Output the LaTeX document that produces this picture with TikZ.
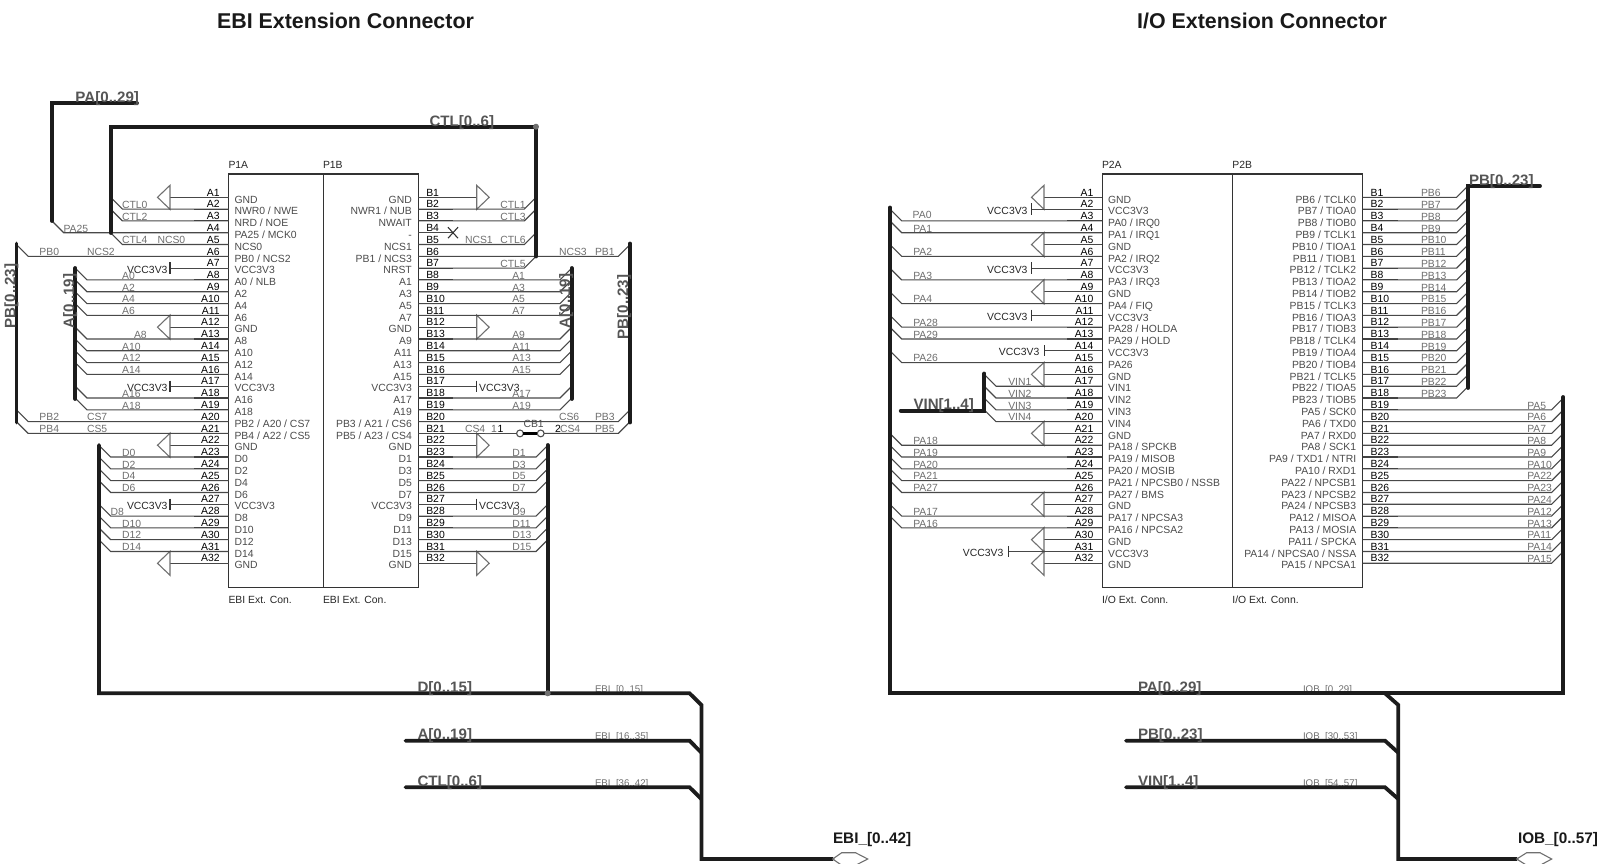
\documentclass[tikz,border=0pt]{standalone}
\usepackage{fontspec}
\setmainfont{Liberation Sans}
\usetikzlibrary{calc}
\definecolor{pinnamec}{HTML}{4A4A4A}
\definecolor{wirelabc}{HTML}{6E6E6E}
\definecolor{buslabc}{HTML}{555555}
\definecolor{wirec}{HTML}{484848}
\definecolor{symc}{HTML}{707070}
\definecolor{busc}{HTML}{1C1C1C}
\tikzset{
  wire/.style={draw=wirec,line width=0.55pt},
  stub/.style={draw=black!78,line width=0.55pt},
  bus/.style={draw=busc,line width=1.9pt,line cap=round,line join=miter},
  sym/.style={draw=symc,line width=0.55pt},
  boxnode/.style={draw=black!80,line width=0.7pt,inner sep=0pt,outer sep=0pt},
  lab/.style={inner sep=0pt,outer sep=0pt,anchor=base west},
  pinnum/.style={lab,font=\fontsize{5.2}{6}\selectfont,text=black},
  pinname/.style={lab,font=\fontsize{5.2}{6}\selectfont,text=pinnamec},
  wirelabel/.style={lab,font=\fontsize{5.2}{6}\selectfont,text=wirelabc},
  smalllabel/.style={lab,font=\fontsize{4.85}{6}\selectfont,text=pinnamec!80},
  vcclabel/.style={lab,font=\fontsize{5.2}{6}\selectfont,text=black!85},
  partlabel/.style={lab,font=\fontsize{5.2}{6}\selectfont,text=black!85},
  buslabel/.style={lab,font=\bfseries\fontsize{7.55}{8}\selectfont,text=buslabc},
  portlabel/.style={lab,font=\bfseries\fontsize{7.65}{8}\selectfont,text=black!90},
  titlelabel/.style={inner sep=0pt,font=\bfseries\fontsize{10.7}{12}\selectfont,text=black!90},
  junction/.style={circle,fill=symc,draw=none,minimum size=3pt,inner sep=0pt},
  jumperend/.style={circle,fill=white,draw=black!70,line width=0.55pt,minimum size=3.4pt,inner sep=0pt,outer sep=0pt},
}
\newcommand\pinY[1]{\pgfmathsetmacro\yy{197.3+11.806*(#1-1)}}
\def\labdy{-0.7}
\def\vccgap{2.5}
% left column of pins
\newcommand\leftpins[3]{%
  \foreach[count=\i] \n in {#3}{%
    \pinY{\i}%
    \coordinate (#1-\i) at (#2,\yy);
    \coordinate (#1-\i-s) at (#2-35,\yy);
    \draw[stub] (#1-\i) -- (#1-\i-s);
    \node[pinnum,anchor=base east] (#1-\i-num) at (#2-9,\yy-1.3) {A\i};
    \node[pinname] (#1-\i-name) at (#2+5.8,\yy+5.7) {\n};
  }}
% right column of pins
\newcommand\rightpins[3]{%
  \foreach[count=\i] \n in {#3}{%
    \pinY{\i}%
    \coordinate (#1-\i) at (#2,\yy);
    \coordinate (#1-\i-s) at (#2+35,\yy);
    \draw[stub] (#1-\i) -- (#1-\i-s);
    \node[pinnum] (#1-\i-num) at (#2+8,\yy-1.3) {B\i};
    \node[pinname,anchor=base east] (#1-\i-name) at (#2-6.5,\yy+5.7) {\n};
  }}
% wire from a pin to a bus on the left: part, pin, bus x, label, label x
\newcommand\wireL[5]{%
  \pinY{#2}%
  \coordinate (#1-#2-k) at (#3+11.7,\yy);
  \coordinate (#1-#2-b) at (#3,\yy-11.7);
  \draw[wire] (#1-#2) -- (#1-#2-k) -- (#1-#2-b);
  \node[wirelabel] (#1-#2-l) at (#5,\yy+\labdy) {#4};
}
% wire from a pin to a bus on the right
\newcommand\wireR[5]{%
  \pinY{#2}%
  \coordinate (#1-#2-k) at (#3-11.7,\yy);
  \coordinate (#1-#2-b) at (#3,\yy-11.7);
  \draw[wire] (#1-#2) -- (#1-#2-k) -- (#1-#2-b);
  \node[wirelabel] (#1-#2-l) at (#5,\yy+\labdy) {#4};
}
% ground symbols: part, pin, back x
\newcommand\gndL[3]{%
  \pinY{#2}%
  \coordinate (#1-#2-g) at (#3,\yy);
  \draw[wire] (#1-#2) -- (#1-#2-g);
  \draw[sym] (#3,\yy-12) -- (#3,\yy+12) -- (#3-12.5,\yy) -- cycle;
}
\newcommand\gndR[3]{%
  \pinY{#2}%
  \coordinate (#1-#2-g) at (#3,\yy);
  \draw[wire] (#1-#2) -- (#1-#2-g);
  \draw[sym] (#3,\yy-12) -- (#3,\yy+12) -- (#3+12.5,\yy) -- cycle;
}
% power tie: part, pin, bar x
\newcommand\vccL[3]{%
  \pinY{#2}%
  \coordinate (#1-#2-g) at (#3,\yy);
  \draw[wire] (#1-#2) -- (#1-#2-g);
  \draw[sym,draw=black!80] (#3,\yy-5.7) -- (#3,\yy+5.7);
  \node[vcclabel,anchor=base east] (#1-#2-v) at (#3-\vccgap,\yy+5.2) {VCC3V3};
}
\newcommand\vccR[3]{%
  \pinY{#2}%
  \coordinate (#1-#2-g) at (#3,\yy);
  \draw[wire] (#1-#2) -- (#1-#2-g);
  \draw[sym,draw=black!80] (#3,\yy-5.7) -- (#3,\yy+5.7);
  \node[vcclabel] (#1-#2-v) at (#3+2.5,\yy+5.2) {VCC3V3};
}
\begin{document}
\begin{tikzpicture}[x=0.5pt,y=-0.5pt]
\useasboundingbox (0,0) rectangle (1602,863);
\clip (0,0) rectangle (1602,863);

% titles
\node[titlelabel] (title1) at (345.5,21) {EBI Extension Connector};
\node[titlelabel] (title2) at (1262,21) {I/O Extension Connector};

% connector bodies
\node[boxnode,minimum width=47.3pt,minimum height=206.65pt] (P1Abox) at (276,380.65) {};
\node[boxnode,minimum width=47.5pt,minimum height=206.65pt] (P1Bbox) at (370.8,380.65) {};
\node[boxnode,minimum width=65.2pt,minimum height=206.65pt] (P2Abox) at (1167.5,380.65) {};
\node[boxnode,minimum width=65pt,minimum height=206.65pt] (P2Bbox) at (1297.7,380.65) {};
\node[partlabel] (P1At) at (228.5,168.7) {P1A};
\node[partlabel] (P1Bt) at (323,168.7) {P1B};
\node[partlabel] (P2At) at (1102,168.7) {P2A};
\node[partlabel] (P2Bt) at (1232.4,168.7) {P2B};
\node[partlabel] (P1Ab) at (228.5,603) {EBI Ext. Con.};
\node[partlabel] (P1Bb) at (323,603) {EBI Ext. Con.};
\node[partlabel] (P2Ab) at (1102,603) {I/O Ext. Conn.};
\node[partlabel] (P2Bb) at (1232.4,603) {I/O Ext. Conn.};

% pins
\leftpins{P1A}{228.7}{GND,NWR0 / NWE,NRD / NOE,PA25 / MCK0,NCS0,PB0 / NCS2,VCC3V3,A0 / NLB,A2,A4,A6,GND,A8,A10,A12,A14,VCC3V3,A16,A18,PB2 / A20 / CS7,PB4 / A22 / CS5,GND,D0,D2,D4,D6,VCC3V3,D8,D10,D12,D14,GND}
\rightpins{P1B}{418.3}{GND,NWR1 / NUB,NWAIT,-,NCS1,PB1 / NCS3,NRST,A1,A3,A5,A7,GND,A9,A11,A13,A15,VCC3V3,A17,A19,PB3 / A21 / CS6,PB5 / A23 / CS4,GND,D1,D3,D5,D7,VCC3V3,D9,D11,D13,D15,GND}
\leftpins{P2A}{1102.3}{GND,VCC3V3,PA0 / IRQ0,PA1 / IRQ1,GND,PA2 / IRQ2,VCC3V3,PA3 / IRQ3,GND,PA4 / FIQ,VCC3V3,PA28 / HOLDA,PA29 / HOLD,VCC3V3,PA26,GND,VIN1,VIN2,VIN3,VIN4,GND,PA18 / SPCKB,PA19 / MISOB,PA20 / MOSIB,PA21 / NPCSB0 / NSSB,PA27 / BMS,GND,PA17 / NPCSA3,PA16 / NPCSA2,GND,VCC3V3,GND}
\rightpins{P2B}{1362.7}{PB6 / TCLK0,PB7 / TIOA0,PB8 / TIOB0,PB9 / TCLK1,PB10 / TIOA1,PB11 / TIOB1,PB12 / TCLK2,PB13 / TIOA2,PB14 / TIOB2,PB15 / TCLK3,PB16 / TIOA3,PB17 / TIOB3,PB18 / TCLK4,PB19 / TIOA4,PB20 / TIOB4,PB21 / TCLK5,PB22 / TIOA5,PB23 / TIOB5,PA5 / SCK0,PA6 / TXD0,PA7 / RXD0,PA8 / SCK1,PA9 / TXD1 / NTRI,PA10 / RXD1,PA22 / NPCSB1,PA23 / NPCSB2,PA24 / NPCSB3,PA12 / MISOA,PA13 / MOSIA,PA11 / SPCKA,PA14 / NPCSA0 / NSSA,PA15 / NPCSA1}

% power symbols
\foreach \p in {1,12,22,32}{\gndL{P1A}{\p}{170}\gndR{P1B}{\p}{476.7}}
\foreach \p in {7,17,27}{\vccL{P1A}{\p}{170}}
\foreach \p in {17,27}{\vccR{P1B}{\p}{476.7}}
\foreach \p in {1,5,9,16,21,27,30,32}{\gndL{P2A}{\p}{1044}}
\def\vccgap{4.3}
\foreach \p in {2,7,11}{\vccL{P2A}{\p}{1031.8}}
\def\vccgap{5}
\vccL{P2A}{14}{1044.3}
\vccL{P2A}{31}{1008.3}

% no-connect on B4
\pinY{4}
\coordinate (P1B-4-x) at (453,\yy);
\draw[wire] (P1B-4) -- (P1B-4-x);
\draw[sym,draw=black!80] (448,\yy-5.5) -- (458,\yy+5.5) (448,\yy+5.5) -- (458,\yy-5.5);

% EBI wires, left
\foreach \p/\l in {2/CTL0,3/CTL2,5/CTL4}{\wireL{P1A}{\p}{110.7}{\l}{122}}
\wireL{P1A}{4}{52}{PA25}{63.5}
\wireL{P1A}{6}{16.5}{PB0}{39.5}
\wireL{P1A}{20}{16.5}{PB2}{39.5}
\wireL{P1A}{21}{16.5}{PB4}{39.5}
\node[wirelabel] (ncs0) at (157.5,243.8) {NCS0};
\node[wirelabel] (ncs2) at (87,255.6) {NCS2};
\node[wirelabel] (cs7) at (87,420.9) {CS7};
\node[wirelabel] (cs5) at (87,432.7) {CS5};
\foreach \p/\l/\lx in {8/A0/122.2,9/A2/122.2,10/A4/122.2,11/A6/122.2,13/A8/134,14/A10/122.2,15/A12/122.2,16/A14/122.2,18/A16/122.2,19/A18/122.2}{\wireL{P1A}{\p}{75.3}{\l}{\lx}}
\foreach \p/\l/\lx in {23/D0/122.2,24/D2/122.2,25/D4/122.2,26/D6/122.2,28/D8/110.5,29/D10/122.2,30/D12/122.2,31/D14/122.2}{\wireL{P1A}{\p}{99}{\l}{\lx}}

% EBI wires, right
\foreach \p/\l in {2/CTL1,3/CTL3,5/CTL6,7/CTL5}{\wireR{P1B}{\p}{536}{\l}{500.3}}
\node[wirelabel] (ncs1) at (465,243.8) {NCS1};
\wireR{P1B}{6}{630}{PB1}{595}
\node[wirelabel] (ncs3) at (559,255.6) {NCS3};
\wireR{P1B}{20}{630}{PB3}{595}
\node[wirelabel] (cs6) at (559,420.9) {CS6};
\foreach \p/\l in {8/A1,9/A3,10/A5,11/A7,13/A9,14/A11,15/A13,16/A15,18/A17,19/A19}{\wireR{P1B}{\p}{571.7}{\l}{512.3}}
\foreach \p/\l in {23/D1,24/D3,25/D5,26/D7,28/D9,29/D11,30/D13,31/D15}{\wireR{P1B}{\p}{547.7}{\l}{512.3}}

% B21 through jumper CB1
\pinY{21}
\node[jumperend] (cbA) at (520,\yy) {};
\node[jumperend] (cbB) at (540.7,\yy) {};
\coordinate (P1B-21-k) at (618.3,\yy);
\coordinate (P1B-21-b) at (630,\yy-11.7);
\draw[wire] (P1B-21) -- (cbA);
\draw[wire] (cbB) -- (P1B-21-k) -- (P1B-21-b);
\draw[draw=black,line width=1.3pt] (cbA) -- (cbB);
\node[wirelabel] (cs4a) at (465,\yy-0.7) {CS4\_1};
\node[pinnum] (cb1one) at (497.5,\yy-0.7) {1};
\node[pinnum,text=black!70] (cb1) at (523.5,\yy-5.8) {CB1};
\node[pinnum] (cb1two) at (555,\yy-0.7) {2};
\node[wirelabel] (cs4b) at (560,\yy-0.7) {CS4};
\node[wirelabel] (pb5) at (595,\yy-0.7) {PB5};

% I/O wires, left
{\def\labdy{-2.8}\wireL{P2A}{3}{890}{PA0}{912.7}}
\foreach \p/\l in {4/PA1,6/PA2,8/PA3,10/PA4,12/PA28,13/PA29,15/PA26,22/PA18,23/PA19,24/PA20,25/PA21,26/PA27,28/PA17,29/PA16}{\wireL{P2A}{\p}{890}{\l}{913.3}}
\foreach \p/\l in {17/VIN1,18/VIN2,19/VIN3,20/VIN4}{\wireL{P2A}{\p}{984.3}{\l}{1008.3}}

% I/O wires, right
\foreach[count=\p] \l in {PB6,PB7,PB8,PB9,PB10,PB11,PB12,PB13,PB14,PB15,PB16,PB17,PB18,PB19,PB20,PB21,PB22,PB23}{\wireR{P2B}{\p}{1468.3}{\l}{1421}}
\foreach \p/\l in {19/PA5,20/PA6,21/PA7,22/PA8,23/PA9,24/PA10,25/PA22,26/PA23,27/PA24,28/PA12,29/PA13,30/PA11,31/PA14,32/PA15}{\wireR{P2B}{\p}{1563.3}{\l}{1527.3}}

% small harness labels, under the buses
\node[smalllabel] (ebiA) at (595,692) {EBI\_[0..15]};
\node[smalllabel] (ebiB) at (595,739) {EBI\_[16..35]};
\node[smalllabel] (ebiC) at (595,786) {EBI\_[36..42]};
\node[smalllabel] (iobA) at (1303,692) {IOB\_[0..29]};
\node[smalllabel] (iobB) at (1303,739) {IOB\_[30..53]};
\node[smalllabel] (iobC) at (1303,786) {IOB\_[54..57]};

% ---- buses, EBI side
\coordinate (paA) at (137,103.3); \coordinate (paB) at (52,103.3); \coordinate (paC) at (52,221);
\draw[bus] (paA) -- (paB) -- (paC);
\coordinate (ctlA) at (110.7,233); \coordinate (ctlB) at (110.7,126.7); \coordinate (ctlC) at (536,126.7); \coordinate (ctlD) at (536,256.5);
\draw[bus] (ctlA) -- (ctlB) -- (ctlC) -- (ctlD);
\coordinate (pbLa) at (16.5,243.5); \coordinate (pbLb) at (16.5,422.5);
\draw[bus] (pbLa) -- (pbLb);
\coordinate (pbRa) at (630,243.5); \coordinate (pbRb) at (630,422.5);
\draw[bus] (pbRa) -- (pbRb);
\coordinate (aLa) at (75.3,268); \coordinate (aLb) at (75.3,399);
\draw[bus] (aLa) -- (aLb);
\coordinate (aRa) at (571.7,268); \coordinate (aRb) at (571.7,399);
\draw[bus] (aRa) -- (aRb);
\coordinate (dLa) at (99,445); \coordinate (dBa) at (99,693.3);
\coordinate (dRa) at (547.7,445); \coordinate (dRb) at (547.7,693.3);
\coordinate (ebiK) at (689.6,693.3); \coordinate (ebiTr) at (701.4,705); \coordinate (ebiBr) at (701.4,859);
\coordinate (ebiP) at (832.7,859);
\draw[bus] (dLa) -- (dBa) -- (ebiK) -- (ebiTr) -- (ebiBr) -- (ebiP);
\draw[bus] (dRa) -- (dRb);
\coordinate (abA) at (405.5,740.7); \coordinate (abK) at (689.6,740.7); \coordinate (abT) at (701.4,752.7);
\draw[bus] (abA) -- (abK) -- (abT);
\coordinate (cbusA) at (405.5,787.3); \coordinate (cbusK) at (689.6,787.3); \coordinate (cbusT) at (701.4,799);
\draw[bus] (cbusA) -- (cbusK) -- (cbusT);
\node[junction] (jct1) at (536,126.7) {};
\node[junction] (jct2) at (547.7,693.3) {};

% ---- buses, I/O side
\coordinate (ioLa) at (890,207.5); \coordinate (ioBl) at (890,693.3); \coordinate (ioBr) at (1563.3,693.3); \coordinate (ioRa) at (1563.3,397);
\draw[bus] (ioLa) -- (ioBl) -- (ioBr) -- (ioRa);
\coordinate (ioK) at (1385,693.3); \coordinate (ioT) at (1398.3,705); \coordinate (ioD) at (1398.3,859); \coordinate (ioP) at (1516.7,859);
\draw[bus] (ioK) -- (ioT) -- (ioD) -- (ioP);
\coordinate (pbA) at (1126,740.7); \coordinate (pbK) at (1385,740.7); \coordinate (pbT) at (1398.3,752.7);
\draw[bus] (pbA) -- (pbK) -- (pbT);
\coordinate (vnA) at (1126,787.3); \coordinate (vnK) at (1385,787.3); \coordinate (vnT) at (1398.3,799);
\draw[bus] (vnA) -- (vnK) -- (vnT);
\coordinate (vinT) at (984.3,373.5); \coordinate (vinC) at (984.3,410.7); \coordinate (vinE) at (900.7,410.7);
\draw[bus] (vinT) -- (vinC) -- (vinE);
\coordinate (pbIa) at (1468.3,388); \coordinate (pbIb) at (1468.3,186); \coordinate (pbIc) at (1540,186);
\draw[bus] (pbIa) -- (pbIb) -- (pbIc);

% ports
\draw[sym] (832.7,859) -- (841.7,852.7) -- (855.5,852.7) -- (867.7,859) -- (855.5,865.3) -- (841.7,865.3) -- cycle;
\draw[sym] (1516.7,859) -- (1526.7,852.7) -- (1540,852.7) -- (1551.7,859) -- (1540,865.3) -- (1526.7,865.3) -- cycle;

% bus labels
\node[buslabel] (lPA) at (75.5,102.6) {PA[0..29]};
\node[buslabel] (lCTL) at (429.5,126) {CTL[0..6]};
\node[buslabel] (lD) at (417.5,692) {D[0..15]};
\node[buslabel] (lA) at (417.5,739.5) {A[0..19]};
\node[buslabel] (lC2) at (417.5,786) {CTL[0..6]};
\node[buslabel] (lPA2) at (1138,692) {PA[0..29]};
\node[buslabel] (lPB2) at (1138,739.5) {PB[0..23]};
\node[buslabel] (lVIN2) at (1138,786) {VIN[1..4]};
\node[buslabel] (lVIN) at (913.5,409.5) {VIN[1..4]};
\node[buslabel] (lPB3) at (1469,185) {PB[0..23]};
\node[buslabel,rotate=90,anchor=base] (lPBa) at (15.5,296) {PB[0..23]};
\node[buslabel,rotate=90,anchor=base] (lPBb) at (628,307) {PB[0..23]};
\node[buslabel,rotate=90,anchor=base] (lAa) at (74,301) {A[0..19]};
\node[buslabel,rotate=90,anchor=base] (lAb) at (570,301) {A[0..19]};
\node[portlabel] (pEBI) at (833,843) {EBI\_[0..42]};
\node[portlabel] (pIOB) at (1518,843) {IOB\_[0..57]};
\end{tikzpicture}
\end{document}
